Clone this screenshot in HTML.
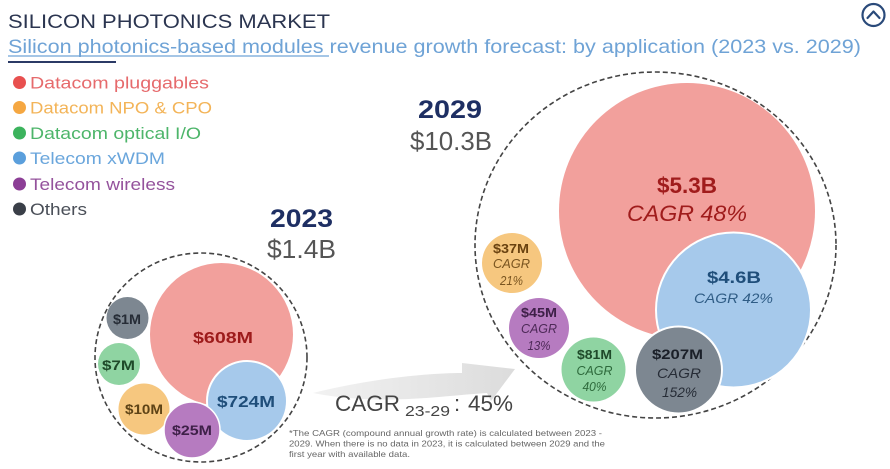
<!DOCTYPE html>
<html>
<head>
<meta charset="utf-8">
<style>
  html,body{margin:0;padding:0;background:#fff;}
  body{width:890px;height:469px;overflow:hidden;}
  svg{display:block;font-family:"Liberation Sans",sans-serif;}
</style>
</head>
<body>
<svg width="890" height="469" viewBox="0 0 890 469" xmlns="http://www.w3.org/2000/svg">
  <defs>
    <linearGradient id="ag" x1="0" y1="0" x2="1" y2="0">
      <stop offset="0" stop-color="#f2f2f2"/>
      <stop offset="1" stop-color="#dcdcdc"/>
    </linearGradient>
  </defs>
  <rect width="890" height="469" fill="#fff"/>

  <!-- Title -->
  <text x="8" y="28" font-size="19" fill="#2b3550" textLength="322" lengthAdjust="spacingAndGlyphs">SILICON PHOTONICS MARKET</text>
  <text x="8" y="53" font-size="19.5" fill="#6fa3d6" textLength="853" lengthAdjust="spacingAndGlyphs">Silicon photonics-based modules revenue growth forecast: by application (2023 vs. 2029)</text>
  <line x1="8" y1="56" x2="329" y2="56" stroke="#6fa3d6" stroke-width="1.2"/>
  <line x1="8" y1="62" x2="116" y2="62" stroke="#2b3a66" stroke-width="2"/>

  <!-- Icon -->
  <circle cx="873.5" cy="15" r="11" fill="none" stroke="#2a4a7a" stroke-width="2.2"/>
  <polyline points="867.5,18 873.5,11.5 879.5,18" fill="none" stroke="#2a4a7a" stroke-width="2.2" stroke-linecap="round" stroke-linejoin="round"/>

  <!-- Legend -->
  <circle cx="19.5" cy="82.5" r="6.5" fill="#e8504f"/>
  <text x="30" y="88.5" font-size="17" fill="#e66a6c" textLength="179" lengthAdjust="spacingAndGlyphs">Datacom pluggables</text>
  <circle cx="19.5" cy="107.5" r="6.5" fill="#f5a742"/>
  <text x="30" y="113.5" font-size="17" fill="#f3b458" textLength="182" lengthAdjust="spacingAndGlyphs">Datacom NPO &amp; CPO</text>
  <circle cx="19.5" cy="133" r="6.5" fill="#3cb35d"/>
  <text x="30" y="139" font-size="17" fill="#4db56a" textLength="171" lengthAdjust="spacingAndGlyphs">Datacom optical I/O</text>
  <circle cx="19.5" cy="158" r="6.5" fill="#5b9fdc"/>
  <text x="30" y="164" font-size="17" fill="#6aa6dc" textLength="135" lengthAdjust="spacingAndGlyphs">Telecom xWDM</text>
  <circle cx="19.5" cy="184" r="6.5" fill="#8c3e96"/>
  <text x="30" y="190" font-size="17" fill="#94529c" textLength="145" lengthAdjust="spacingAndGlyphs">Telecom wireless</text>
  <circle cx="19.5" cy="209" r="6.5" fill="#3a3f48"/>
  <text x="30" y="215" font-size="17" fill="#4a4f58" textLength="57" lengthAdjust="spacingAndGlyphs">Others</text>

  <!-- Year headings -->
  <text x="418" y="118" font-size="25" font-weight="bold" fill="#1e2f63" textLength="64" lengthAdjust="spacingAndGlyphs">2029</text>
  <text x="410" y="150" font-size="26" fill="#555" textLength="82" lengthAdjust="spacingAndGlyphs">$10.3B</text>
  <text x="270" y="227" font-size="25" font-weight="bold" fill="#1e2f63" textLength="63" lengthAdjust="spacingAndGlyphs">2023</text>
  <text x="267" y="258" font-size="26" fill="#555" textLength="69" lengthAdjust="spacingAndGlyphs">$1.4B</text>

  <!-- Arrow -->
  <path d="M313,393 C360,381 420,373 462,373 L462,363 L515,369 L491,401 L487,393 C440,396 380,406 313,393 Z" fill="url(#ag)"/>

  <!-- 2023 cluster -->
  <ellipse cx="201" cy="357.5" rx="106" ry="104.5" fill="none" stroke="#444" stroke-width="1.6" stroke-dasharray="5 3"/>
  <circle cx="221.5" cy="334.5" r="71.5" fill="#f2a09c"/>
  <circle cx="247" cy="401" r="40" fill="#a6c9eb" stroke="#fff" stroke-width="2"/>
  <circle cx="127.5" cy="318" r="21" fill="#7d8791"/>
  <circle cx="119" cy="364" r="21" fill="#8fd4a2"/>
  <circle cx="144" cy="409" r="25.5" fill="#f6c77f"/>
  <circle cx="192" cy="430" r="28" fill="#b67bc0" stroke="#fff" stroke-width="1.5"/>

  <text x="223" y="343" font-size="16" font-weight="bold" fill="#9d1b1b" text-anchor="middle" textLength="60" lengthAdjust="spacingAndGlyphs">$608M</text>
  <text x="246" y="407" font-size="16" font-weight="bold" fill="#1f4e7a" text-anchor="middle" textLength="58" lengthAdjust="spacingAndGlyphs">$724M</text>
  <text x="127" y="324" font-size="14" font-weight="bold" fill="#262c36" text-anchor="middle" textLength="28" lengthAdjust="spacingAndGlyphs">$1M</text>
  <text x="118.5" y="370" font-size="14" font-weight="bold" fill="#1f4a2a" text-anchor="middle" textLength="33" lengthAdjust="spacingAndGlyphs">$7M</text>
  <text x="144" y="414" font-size="14" font-weight="bold" fill="#5e4316" text-anchor="middle" textLength="38" lengthAdjust="spacingAndGlyphs">$10M</text>
  <text x="192" y="435" font-size="14" font-weight="bold" fill="#3e2048" text-anchor="middle" textLength="40" lengthAdjust="spacingAndGlyphs">$25M</text>

  <!-- 2029 cluster -->
  <ellipse cx="655.5" cy="245" rx="180.5" ry="173" fill="none" stroke="#444" stroke-width="1.6" stroke-dasharray="5 3"/>
  <circle cx="687" cy="211" r="128" fill="#f2a09c"/>
  <circle cx="733.5" cy="310" r="77.5" fill="#a6c9eb" stroke="#fff" stroke-width="2"/>
  <circle cx="678.5" cy="370" r="43.5" fill="#7d8791" stroke="#fff" stroke-width="2"/>
  <circle cx="593.5" cy="369.5" r="32" fill="#8fd4a2"/>
  <circle cx="539" cy="328" r="30" fill="#b67bc0"/>
  <circle cx="512" cy="263" r="30" fill="#f6c77f"/>

  <text x="687" y="193" font-size="22" font-weight="bold" fill="#a01c1c" text-anchor="middle" textLength="60" lengthAdjust="spacingAndGlyphs">$5.3B</text>
  <text x="687" y="221" font-size="22" font-style="italic" fill="#a01c1c" text-anchor="middle" textLength="120" lengthAdjust="spacingAndGlyphs">CAGR 48%</text>

  <text x="734" y="283" font-size="17" font-weight="bold" fill="#1f4e7a" text-anchor="middle" textLength="54" lengthAdjust="spacingAndGlyphs">$4.6B</text>
  <text x="733.5" y="303" font-size="14" font-style="italic" fill="#2f5c85" text-anchor="middle" textLength="79" lengthAdjust="spacingAndGlyphs">CAGR 42%</text>

  <text x="677.5" y="359" font-size="14" font-weight="bold" fill="#1a1f28" text-anchor="middle" textLength="51" lengthAdjust="spacingAndGlyphs">$207M</text>
  <text x="679" y="378" font-size="14" font-style="italic" fill="#262c36" text-anchor="middle" textLength="44" lengthAdjust="spacingAndGlyphs">CAGR</text>
  <text x="679.5" y="397" font-size="14" font-style="italic" fill="#262c36" text-anchor="middle" textLength="35" lengthAdjust="spacingAndGlyphs">152%</text>

  <text x="594.5" y="359" font-size="12.5" font-weight="bold" fill="#1f4a2a" text-anchor="middle" textLength="35" lengthAdjust="spacingAndGlyphs">$81M</text>
  <text x="594.5" y="375" font-size="12.5" font-style="italic" fill="#2e6a3c" text-anchor="middle" textLength="36" lengthAdjust="spacingAndGlyphs">CAGR</text>
  <text x="594.5" y="391" font-size="12.5" font-style="italic" fill="#2e6a3c" text-anchor="middle" textLength="24" lengthAdjust="spacingAndGlyphs">40%</text>

  <text x="539" y="317" font-size="12.5" font-weight="bold" fill="#3e2048" text-anchor="middle" textLength="36" lengthAdjust="spacingAndGlyphs">$45M</text>
  <text x="539" y="333" font-size="12.5" font-style="italic" fill="#4e2a58" text-anchor="middle" textLength="36" lengthAdjust="spacingAndGlyphs">CAGR</text>
  <text x="539" y="350" font-size="12.5" font-style="italic" fill="#4e2a58" text-anchor="middle" textLength="23" lengthAdjust="spacingAndGlyphs">13%</text>

  <text x="511" y="253" font-size="12.5" font-weight="bold" fill="#6a4210" text-anchor="middle" textLength="36" lengthAdjust="spacingAndGlyphs">$37M</text>
  <text x="511.5" y="268" font-size="12.5" font-style="italic" fill="#7a5520" text-anchor="middle" textLength="37" lengthAdjust="spacingAndGlyphs">CAGR</text>
  <text x="511.5" y="285" font-size="12.5" font-style="italic" fill="#7a5520" text-anchor="middle" textLength="23" lengthAdjust="spacingAndGlyphs">21%</text>

  <!-- CAGR summary -->
  <text x="335" y="411" font-size="22" fill="#444" textLength="65" lengthAdjust="spacingAndGlyphs">CAGR</text>
  <text x="405" y="416" font-size="15" fill="#444" textLength="45" lengthAdjust="spacingAndGlyphs">23-29</text>
  <text x="454" y="411" font-size="22" fill="#444">:</text>
  <text x="468" y="411" font-size="22" fill="#444" textLength="45" lengthAdjust="spacingAndGlyphs">45%</text>

  <!-- Footnote -->
  <text x="289" y="436" font-size="8.5" fill="#666" textLength="313" lengthAdjust="spacingAndGlyphs">*The CAGR (compound annual growth rate) is calculated between 2023 -</text>
  <text x="289" y="446.5" font-size="8.5" fill="#666" textLength="316" lengthAdjust="spacingAndGlyphs">2029. When there is no data in 2023, it is calculated between 2029 and the</text>
  <text x="289" y="457" font-size="8.5" fill="#666" textLength="121" lengthAdjust="spacingAndGlyphs">first year with available data.</text>
</svg>
</body>
</html>
